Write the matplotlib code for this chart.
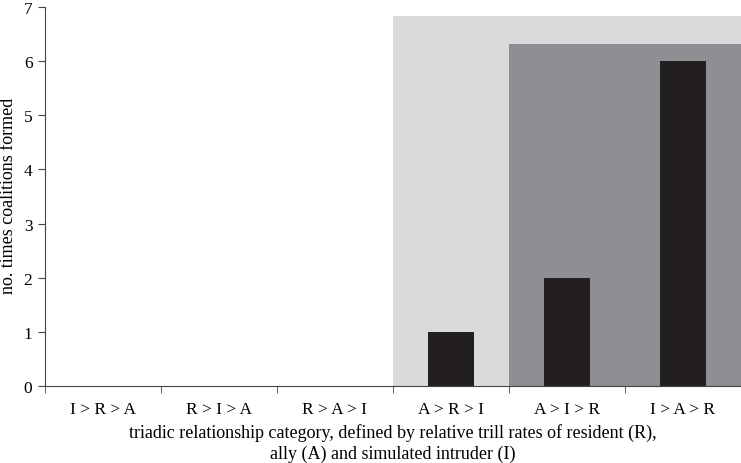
import matplotlib
matplotlib.use("Agg")
import matplotlib.pyplot as plt
import numpy as np

categories = ["I > R > A", "R > I > A", "R > A > I", "A > R > I", "A > I > R", "I > A > R"]
counts = [0, 0, 0, 1, 2, 6]
light_region = (3, 5, 6.83)   # first cat, last cat, height
dark_region = (4, 5, 6.32)

plt.rcParams['font.family'] = ['Liberation Serif', 'DejaVu Serif']
fig = plt.figure(figsize=(7.41, 4.64), dpi=100)
ax = fig.add_axes([45/741, (464-387)/464, 696/741, 379/464])

x = np.arange(len(categories))
ax.bar([light_region[0]-0.5], [light_region[2]], width=light_region[1]-light_region[0]+1,
       align='edge', color='#d9dadc', zorder=1)
ax.bar([dark_region[0]-0.5], [dark_region[2]], width=dark_region[1]-dark_region[0]+1,
       align='edge', color='#8e8f92', zorder=2)
ax.bar(x, counts, width=0.4, color='#231f20', zorder=3)

fs = 13
tfs = 12.5
ax.set_xlim(-0.5, 5.5)
ax.set_ylim(0, 7)
ax.set_yticks(range(8))
ax.set_xticks(x)
ax.set_xticklabels(categories)
ax.set_xticks(np.arange(-0.5, 6.0, 1.0), minor=True)
ax.tick_params(axis='x', which='major', length=0, pad=11, labelsize=tfs)
ax.tick_params(axis='x', which='minor', length=5, color='#444444')
ax.tick_params(axis='y', length=5, color='#444444', labelsize=tfs, pad=4)
for s in ['top', 'right']:
    ax.spines[s].set_visible(False)
for s in ['left', 'bottom']:
    ax.spines[s].set_color('#444444')
    ax.spines[s].set_zorder(5)
ax.set_ylabel("no. times coalitions formed", fontsize=fs)
ax.yaxis.set_label_coords((17-45)/696, 0.505)
ax.set_xlabel("triadic relationship category, defined by relative trill rates of resident (R),\nally (A) and simulated intruder (I)",
              fontsize=fs, linespacing=1.3)
ax.xaxis.set_label_coords(0.5, (387-424)/379)

fig.savefig("out.png", dpi=100)
